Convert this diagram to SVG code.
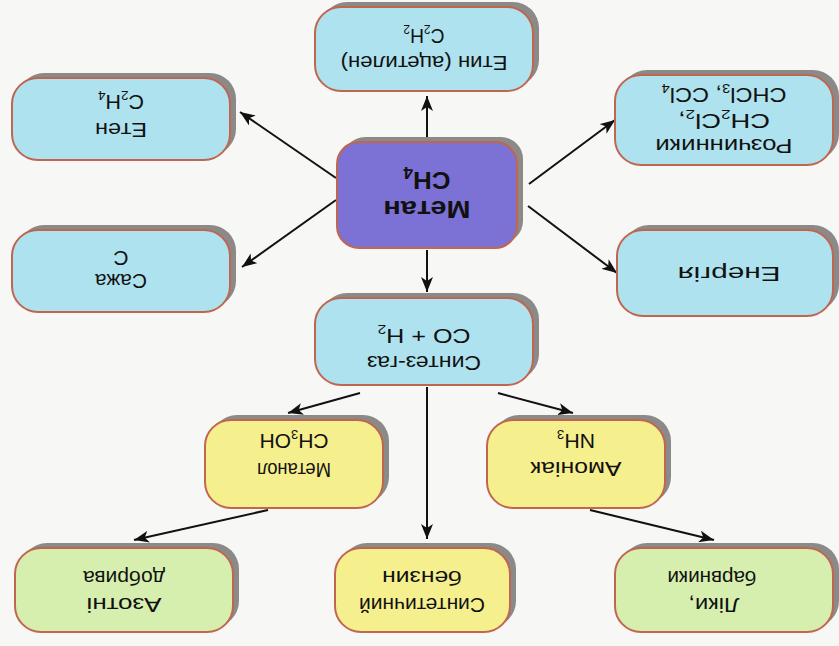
<svg xmlns="http://www.w3.org/2000/svg" width="839" height="646" viewBox="0 0 839 646">
<defs>
<marker id="ah" markerUnits="userSpaceOnUse" markerWidth="16" markerHeight="12" refX="15" refY="6" orient="auto">
<path d="M0,0 L15,6 L0,12 L4,6 z" fill="#111"/>
</marker>
<style>
.sh{fill:#8c8a88}
.bx{stroke:#c0654f;stroke-width:2}
.blue{fill:#aee2ee}
.purple{fill:#7c72d6}
.yellow{fill:#f6ef8e}
.green{fill:#d6efae}
.t{font-family:"Liberation Sans",Arial,sans-serif;font-size:21px;fill:#111;text-anchor:middle}
.tb{font-family:"Liberation Sans",Arial,sans-serif;font-size:24px;font-weight:bold;fill:#111;text-anchor:middle}
.s{font-size:13px}
.c{stroke:#111;stroke-width:2;fill:none;marker-end:url(#ah)}
</style>
</defs>
<rect width="839" height="646" fill="#f7f7f5"/>
<g id="connectors">
<path class="c" d="M336,178 L240,112"/>
<path class="c" d="M336,200 L242,267"/>
<path class="c" d="M427,142 L427,96"/>
<path class="c" d="M529,184 L615,120"/>
<path class="c" d="M528,206 L617,273"/>
<path class="c" d="M427,250 L427,292"/>
<path class="c" d="M360,393 L288,413"/>
<path class="c" d="M498,393 L573,413"/>
<path class="c" d="M427,387 L427,539"/>
<path class="c" d="M268,510 L134,540"/>
<path class="c" d="M590,510 L714,540"/>
</g>
<g id="etyn">
<rect class="sh" x="321" y="2" width="218" height="84" rx="26"/>
<rect class="bx blue" x="315" y="7" width="218" height="84" rx="26"/>
<g transform="rotate(180 424 49)">
<text class="t" x="424" y="42" textLength="167" lengthAdjust="spacingAndGlyphs">Етин (ацетилен)</text>
<text class="t" x="424" y="69" textLength="41" lengthAdjust="spacingAndGlyphs">C<tspan class="s" dy="4">2</tspan><tspan dy="-4">H</tspan><tspan class="s" dy="4">2</tspan></text>
</g>
</g>
<g id="eten">
<rect class="sh" x="18" y="73" width="218" height="82" rx="26"/>
<rect class="bx blue" x="12" y="78" width="218" height="82" rx="26"/>
<g transform="rotate(180 121 119)">
<text class="t" x="121" y="115" textLength="52" lengthAdjust="spacingAndGlyphs">Етен</text>
<text class="t" x="121" y="143" textLength="46" lengthAdjust="spacingAndGlyphs">C<tspan class="s" dy="4">2</tspan><tspan dy="-4">H</tspan><tspan class="s" dy="4">4</tspan></text>
</g>
</g>
<g id="rozch">
<rect class="sh" x="621" y="70" width="218" height="90" rx="26"/>
<rect class="bx blue" x="615" y="75" width="218" height="90" rx="26"/>
<g transform="rotate(180 724 120)">
<text class="t" x="724" y="101" textLength="137" lengthAdjust="spacingAndGlyphs">Розчинники</text>
<text class="t" x="724" y="126" textLength="92" lengthAdjust="spacingAndGlyphs">CH<tspan class="s" dy="4">2</tspan><tspan dy="-4">Cl</tspan><tspan class="s" dy="4">2</tspan><tspan dy="-4">,</tspan></text>
<text class="t" x="724" y="152" textLength="125" lengthAdjust="spacingAndGlyphs">CHCl<tspan class="s" dy="4">3</tspan><tspan dy="-4">,  CCl</tspan><tspan class="s" dy="4">4</tspan></text>
</g>
</g>
<g id="metan">
<rect class="sh" x="343" y="137" width="180" height="106" rx="22"/>
<rect class="bx purple" x="337" y="142" width="180" height="106" rx="22"/>
<g transform="rotate(180 427 195)">
<text class="tb" x="427" y="189" textLength="87" lengthAdjust="spacingAndGlyphs">Метан</text>
<text class="tb" x="427" y="218" textLength="47" lengthAdjust="spacingAndGlyphs">CH<tspan style="font-size:16px" dy="5">4</tspan></text>
</g>
</g>
<g id="sazha">
<rect class="sh" x="18" y="225" width="218" height="82" rx="26"/>
<rect class="bx blue" x="12" y="230" width="218" height="82" rx="26"/>
<g transform="rotate(180 121 271)">
<text class="t" x="121" y="268" textLength="52" lengthAdjust="spacingAndGlyphs">Сажа</text>
<text class="t" x="121" y="291">C</text>
</g>
</g>
<g id="energ">
<rect class="sh" x="623" y="225" width="216" height="86" rx="26"/>
<rect class="bx blue" x="617" y="230" width="216" height="86" rx="26"/>
<g transform="rotate(180 725 273)">
<text class="t" x="721" y="279" textLength="103" lengthAdjust="spacingAndGlyphs">Енергія</text>
</g>
</g>
<g id="syntez">
<rect class="sh" x="321" y="293" width="218" height="87" rx="26"/>
<rect class="bx blue" x="315" y="298" width="218" height="87" rx="26"/>
<g transform="rotate(180 424 341)">
<text class="t" x="424" y="326" textLength="114" lengthAdjust="spacingAndGlyphs">Синтез-газ</text>
<text class="t" x="424" y="353" textLength="93" lengthAdjust="spacingAndGlyphs">CO + H<tspan class="s" dy="4">2</tspan></text>
</g>
</g>
<g id="metanol">
<rect class="sh" x="211" y="415" width="178" height="88" rx="26"/>
<rect class="bx yellow" x="205" y="420" width="178" height="88" rx="26"/>
<g transform="rotate(180 294 464)">
<text class="t" x="294" y="465" textLength="74" lengthAdjust="spacingAndGlyphs">Метанол</text>
<text class="t" x="294" y="494">CH<tspan class="s" dy="4">3</tspan><tspan dy="-4">OH</tspan></text>
</g>
</g>
<g id="amoniak">
<rect class="sh" x="493" y="415" width="178" height="88" rx="26"/>
<rect class="bx yellow" x="487" y="420" width="178" height="88" rx="26"/>
<g transform="rotate(180 576 464)">
<text class="t" x="576" y="466" textLength="91" lengthAdjust="spacingAndGlyphs">Амоніак</text>
<text class="t" x="576" y="494" textLength="38" lengthAdjust="spacingAndGlyphs">NH<tspan class="s" dy="4">3</tspan></text>
</g>
</g>
<g id="azot">
<rect class="sh" x="21" y="543" width="218" height="84" rx="26"/>
<rect class="bx green" x="15" y="548" width="218" height="84" rx="26"/>
<g transform="rotate(180 124 590)">
<text class="t" x="124" y="582" textLength="75" lengthAdjust="spacingAndGlyphs">Азотні</text>
<text class="t" x="124" y="609" textLength="82" lengthAdjust="spacingAndGlyphs">добрива</text>
</g>
</g>
<g id="benzyn">
<rect class="sh" x="341" y="543" width="175" height="84" rx="26"/>
<rect class="bx yellow" x="335" y="548" width="175" height="84" rx="26"/>
<g transform="rotate(180 422 590)">
<text class="t" x="422" y="582" textLength="126" lengthAdjust="spacingAndGlyphs">Синтетичний</text>
<text class="t" x="422" y="609" textLength="80" lengthAdjust="spacingAndGlyphs">бензин</text>
</g>
</g>
<g id="liky">
<rect class="sh" x="621" y="543" width="218" height="84" rx="26"/>
<rect class="bx green" x="615" y="548" width="218" height="84" rx="26"/>
<g transform="rotate(180 724 590)">
<text class="t" x="734" y="582" textLength="51" lengthAdjust="spacingAndGlyphs">Ліки,</text>
<text class="t" x="736" y="609" textLength="89" lengthAdjust="spacingAndGlyphs">барвники</text>
</g>
</g>
</svg>
